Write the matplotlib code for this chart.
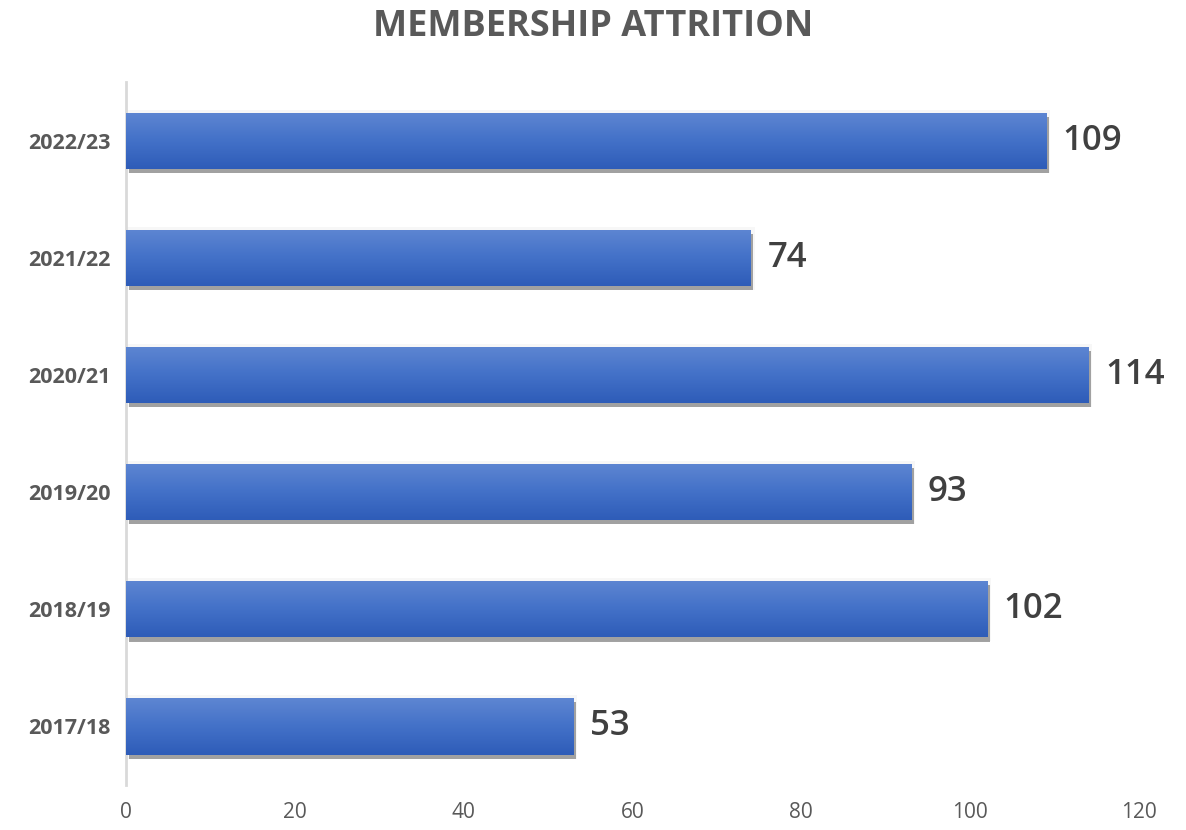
import numpy as np
import matplotlib.pyplot as plt
import matplotlib.patheffects as pe
from matplotlib.colors import LinearSegmentedColormap

seasons = ["2017/18", "2018/19", "2019/20", "2020/21", "2021/22", "2022/23"]
attrition = [53, 102, 93, 114, 74, 109]
x_ticks = [0, 20, 40, 60, 80, 100, 120]

fig = plt.figure(figsize=(11.86, 8.3), dpi=100)
ax = fig.add_axes([0.1062, 0.0542, 0.8542, 0.8468])

# vertical gradient, light blue at top to darker at bottom
grad = LinearSegmentedColormap.from_list("bar", ["#2E5CB8", "#4371C8", "#5E86D2"])
gradient = np.linspace(0, 1, 256).reshape(-1, 1)

bars = ax.barh(seasons, attrition, height=0.48, color="#4472C4", zorder=2,
               path_effects=[pe.Stroke(linewidth=5, foreground="#f7f7f7"),
                             pe.SimplePatchShadow(offset=(2, -3), shadow_rgbFace="#8c8c8c", alpha=0.8),
                             pe.Normal()])
for b in bars:
    x0, y0 = b.get_x(), b.get_y()
    w, h = b.get_width(), b.get_height()
    im = ax.imshow(gradient, cmap=grad, aspect="auto", origin="lower",
                   extent=[x0, x0 + w, y0, y0 + h], zorder=3)
    im.set_clip_path(b)

for b, v in zip(bars, attrition):
    ax.annotate(str(v), (b.get_width(), b.get_y() + b.get_height() / 2),
                xytext=(12, 0), textcoords="offset points", va="center", ha="left",
                fontsize=25, fontfamily="Open Sans", fontweight="semibold", color="#404040")

ax.set_xlim(0, 120)
ax.set_ylim(-0.5, 5.5)
ax.set_xticks(x_ticks)
ax.tick_params(axis="x", length=0, labelsize=15, labelcolor="#595959", pad=12)
ax.tick_params(axis="y", length=0, labelsize=15.5, labelcolor="#595959", pad=11)
for lab in ax.get_xticklabels():
    lab.set_fontfamily("Open Sans")
for lab in ax.get_yticklabels():
    lab.set_fontfamily("Open Sans")
    lab.set_fontweight("bold")

for s in ["top", "right", "bottom"]:
    ax.spines[s].set_visible(False)
ax.spines["left"].set_color("#d9d9d9")
ax.spines["left"].set_linewidth(2)

fig.text(0.5, 0.967, "MEMBERSHIP ATTRITION", ha="center", va="center",
         fontsize=26, fontweight="bold", fontfamily="Open Sans", color="#595959")

fig.savefig("out.png", dpi=100)
